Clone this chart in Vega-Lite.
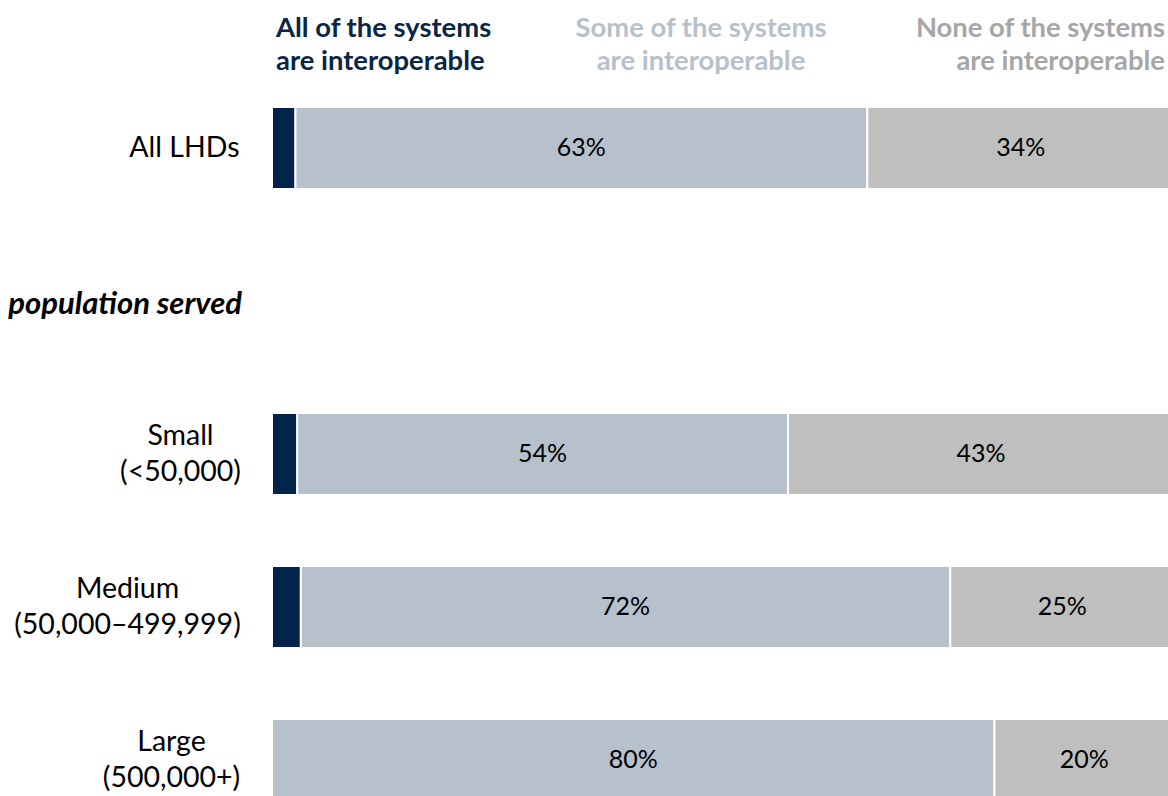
{
  "$schema": "https://vega.github.io/schema/vega-lite/v6.json",
  "autosize": {"type": "none"},
  "width": 902,
  "height": 694,
  "padding": {"left": 272, "top": 107, "right": 0, "bottom": 0},
  "background": "white",
  "config": {"view": {"stroke": null}, "font": "Lato"},
  "data": {
    "values": [
      {"group": "All LHDs", "response": "All", "k": 1, "value": 0.026},
      {"group": "All LHDs", "response": "Some", "k": 2, "value": 0.634},
      {"group": "All LHDs", "response": "None", "k": 3, "value": 0.340},
      {"group": "Small (<50,000)", "response": "All", "k": 1, "value": 0.028},
      {"group": "Small (<50,000)", "response": "Some", "k": 2, "value": 0.544},
      {"group": "Small (<50,000)", "response": "None", "k": 3, "value": 0.428},
      {"group": "Medium (50,000–499,999)", "response": "All", "k": 1, "value": 0.032},
      {"group": "Medium (50,000–499,999)", "response": "Some", "k": 2, "value": 0.720},
      {"group": "Medium (50,000–499,999)", "response": "None", "k": 3, "value": 0.248},
      {"group": "Large (500,000+)", "response": "All", "k": 1, "value": 0.0},
      {"group": "Large (500,000+)", "response": "Some", "k": 2, "value": 0.801},
      {"group": "Large (500,000+)", "response": "None", "k": 3, "value": 0.199}
    ]
  },
  "encoding": {
    "y": {
      "field": "group",
      "type": "nominal",
      "scale": {
        "domain": ["All LHDs", " ", "Small (<50,000)", "Medium (50,000–499,999)", "Large (500,000+)"],
        "paddingInner": 0.464,
        "paddingOuter": 0
      },
      "axis": {
        "title": null,
        "domain": false,
        "ticks": false,
        "labelLimit": 400,
        "labelFont": "Lato",
        "labelFontSize": 28.5,
        "labelColor": "#000000",
        "labelLineHeight": 36,
        "labelAlign": {"condition": {"test": "indexof(datum.label, '(') >= 0", "value": "center"}, "value": "right"},
        "labelBaseline": "middle",
        "labelPadding": {
          "condition": [
            {"test": "datum.value === 'Small (<50,000)'", "value": 92},
            {"test": "datum.value === 'Medium (50,000–499,999)'", "value": 145},
            {"test": "datum.value === 'Large (500,000+)'", "value": 101}
          ],
          "value": 33
        },
        "labelOffset": {"condition": {"test": "indexof(datum.label, '(') >= 0", "value": -18}, "value": 0},
        "labelExpr": "split(replace(datum.label, ' (', '|('), '|')"
      }
    }
  },
  "layer": [
    {
      "transform": [
        {"stack": "value", "groupby": ["group"], "sort": [{"field": "k"}], "as": ["x0", "x1"]}
      ],
      "mark": {"type": "bar", "stroke": "white", "strokeWidth": 2},
      "encoding": {
        "x": {"field": "x0", "type": "quantitative", "scale": {"domain": [0, 1], "nice": false}, "axis": null},
        "x2": {"field": "x1"},
        "color": {
          "field": "response",
          "type": "nominal",
          "scale": {"domain": ["All", "Some", "None"], "range": ["#03244a", "#b6c1cb", "#bfbfbf"]},
          "legend": null
        }
      }
    },
    {
      "transform": [
        {"stack": "value", "groupby": ["group"], "sort": [{"field": "k"}], "as": ["x0", "x1"]},
        {"filter": "datum.k > 1"},
        {"fold": ["x0", "x1"], "as": ["edge", "pos"]},
        {"aggregate": [{"op": "mean", "field": "pos", "as": "mid"}], "groupby": ["group", "value"]}
      ],
      "mark": {"type": "text", "fontSize": 25, "font": "Lato", "color": "#000000", "baseline": "middle", "align": "center"},
      "encoding": {
        "x": {"field": "mid", "type": "quantitative"},
        "text": {"field": "value", "type": "quantitative", "format": ".0%"}
      }
    },
    {
      "data": {"values": [{"label": ["All of the systems", "are interoperable"]}]},
      "mark": {"type": "text", "align": "left", "baseline": "alphabetic", "dx": 4, "dy": -111, "fontSize": 27.4, "fontWeight": "bold", "font": "Lato", "color": "#0b2545", "lineHeight": 33},
      "encoding": {
        "x": {"datum": 0, "type": "quantitative"},
        "y": {"datum": "All LHDs", "type": "nominal"},
        "text": {"field": "label"}
      }
    },
    {
      "data": {"values": [{"label": ["Some of the systems", "are interoperable"]}]},
      "mark": {"type": "text", "align": "center", "baseline": "alphabetic", "dy": -111, "fontSize": 27.4, "fontWeight": "bold", "font": "Lato", "color": "#b6c1cb", "lineHeight": 33},
      "encoding": {
        "x": {"datum": 0.4756, "type": "quantitative"},
        "y": {"datum": "All LHDs", "type": "nominal"},
        "text": {"field": "label"}
      }
    },
    {
      "data": {"values": [{"label": ["None of the systems", "are interoperable"]}]},
      "mark": {"type": "text", "align": "right", "baseline": "alphabetic", "dx": -9, "dy": -111, "fontSize": 27.4, "fontWeight": "bold", "font": "Lato", "color": "#a6a6a6", "lineHeight": 33},
      "encoding": {
        "x": {"datum": 1, "type": "quantitative"},
        "y": {"datum": "All LHDs", "type": "nominal"},
        "text": {"field": "label"}
      }
    },
    {
      "data": {"values": [{"label": "population served"}]},
      "mark": {"type": "text", "align": "right", "baseline": "middle", "dx": -30, "dy": 4, "fontSize": 31, "fontWeight": "bold", "fontStyle": "italic", "font": "Lato", "color": "#000000"},
      "encoding": {
        "x": {"datum": 0, "type": "quantitative"},
        "y": {"datum": " ", "type": "nominal"},
        "text": {"field": "label"}
      }
    }
  ]
}
